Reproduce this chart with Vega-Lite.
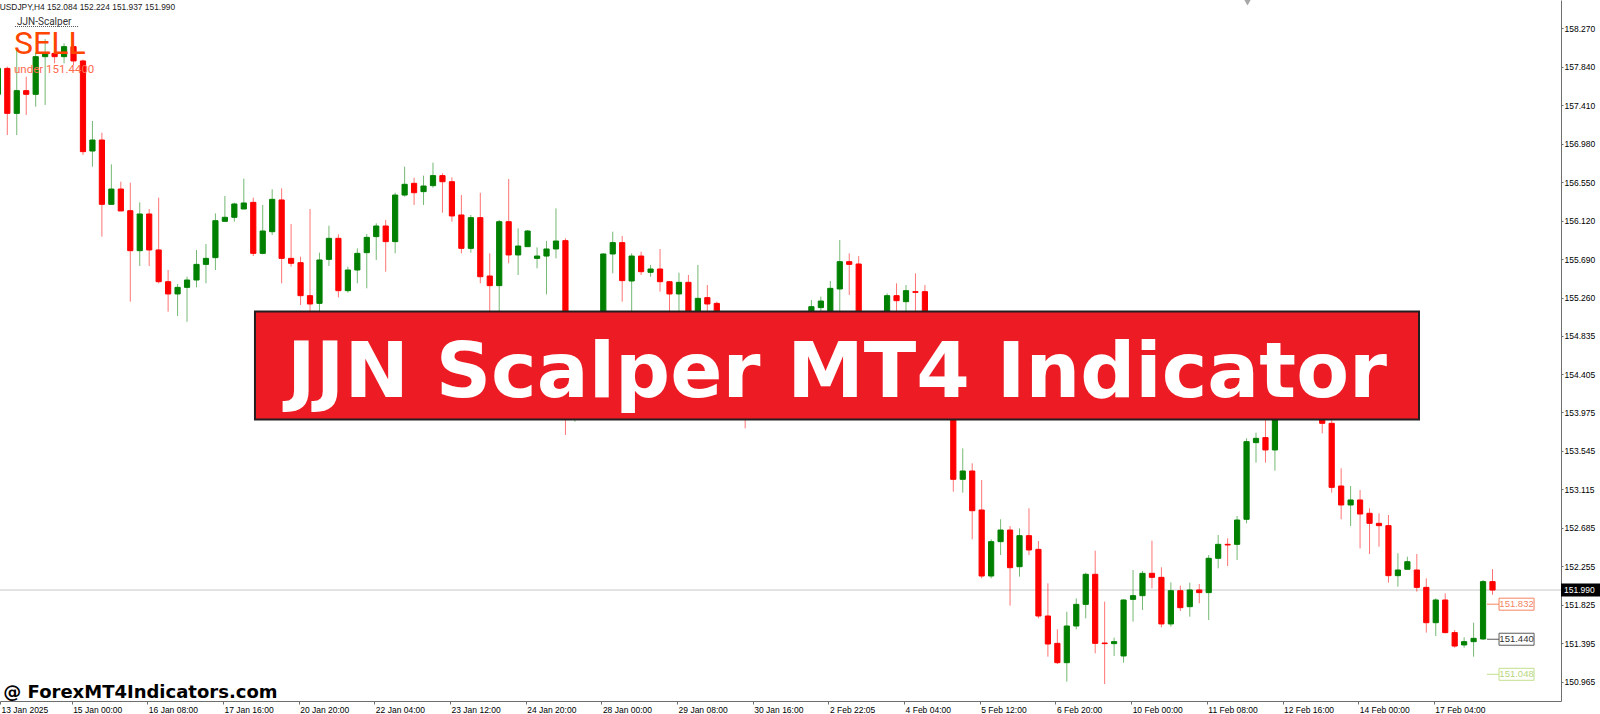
{
  "$schema": "https://vega.github.io/schema/vega-lite/v6.json",
  "width": 1561,
  "height": 701,
  "autosize": "none",
  "padding": {"left": 0, "top": 0, "right": 39, "bottom": 13},
  "background": "#ffffff",
  "config": {"view": {"stroke": null}},
  "datasets": {
    "candles": [
      {"i": -1, "open": 157.532, "high": 157.86, "low": 157.45, "close": 157.822},
      {"i": 0, "open": 157.822, "high": 157.841, "low": 157.077, "close": 157.319},
      {"i": 1, "open": 157.319, "high": 158.046, "low": 157.077, "close": 157.573},
      {"i": 2, "open": 157.573, "high": 157.729, "low": 157.301, "close": 157.532},
      {"i": 3, "open": 157.532, "high": 158.0, "low": 157.394, "close": 157.953},
      {"i": 4, "open": 157.953, "high": 158.15, "low": 157.413, "close": 157.99},
      {"i": 5, "open": 157.99, "high": 158.028, "low": 157.878, "close": 157.953},
      {"i": 6, "open": 157.953, "high": 158.102, "low": 157.878, "close": 158.065},
      {"i": 7, "open": 158.065, "high": 158.102, "low": 157.86, "close": 157.905},
      {"i": 8, "open": 157.905, "high": 157.92, "low": 156.854, "close": 156.891},
      {"i": 9, "open": 156.898, "high": 157.234, "low": 156.723, "close": 157.021},
      {"i": 10, "open": 157.021, "high": 157.103, "low": 155.941, "close": 156.302},
      {"i": 11, "open": 156.302, "high": 156.749, "low": 156.302, "close": 156.473},
      {"i": 12, "open": 156.473, "high": 156.555, "low": 156.228, "close": 156.228},
      {"i": 13, "open": 156.231, "high": 156.544, "low": 155.214, "close": 155.784},
      {"i": 14, "open": 155.784, "high": 156.324, "low": 155.613, "close": 156.194},
      {"i": 15, "open": 156.194, "high": 156.25, "low": 155.613, "close": 155.792},
      {"i": 16, "open": 155.792, "high": 156.377, "low": 155.419, "close": 155.437},
      {"i": 17, "open": 155.437, "high": 155.568, "low": 155.102, "close": 155.3},
      {"i": 18, "open": 155.3, "high": 155.411, "low": 155.054, "close": 155.374},
      {"i": 19, "open": 155.374, "high": 155.493, "low": 154.99, "close": 155.456},
      {"i": 20, "open": 155.456, "high": 155.792, "low": 155.374, "close": 155.631},
      {"i": 21, "open": 155.631, "high": 155.859, "low": 155.419, "close": 155.698},
      {"i": 22, "open": 155.706, "high": 156.201, "low": 155.568, "close": 156.119},
      {"i": 23, "open": 156.112, "high": 156.395, "low": 156.112, "close": 156.157},
      {"i": 24, "open": 156.157, "high": 156.321, "low": 156.108, "close": 156.306},
      {"i": 25, "open": 156.25, "high": 156.589, "low": 156.25, "close": 156.317},
      {"i": 26, "open": 156.324, "high": 156.377, "low": 155.724, "close": 155.754},
      {"i": 27, "open": 155.754, "high": 156.295, "low": 155.743, "close": 156.004},
      {"i": 28, "open": 155.996, "high": 156.47, "low": 155.959, "close": 156.358},
      {"i": 29, "open": 156.351, "high": 156.481, "low": 155.419, "close": 155.698},
      {"i": 30, "open": 155.698, "high": 156.082, "low": 155.605, "close": 155.643},
      {"i": 31, "open": 155.65, "high": 155.717, "low": 155.177, "close": 155.281},
      {"i": 32, "open": 155.281, "high": 156.25, "low": 155.05, "close": 155.188},
      {"i": 33, "open": 155.195, "high": 155.762, "low": 155.08, "close": 155.68},
      {"i": 34, "open": 155.687, "high": 156.063, "low": 155.613, "close": 155.922},
      {"i": 35, "open": 155.922, "high": 155.967, "low": 155.262, "close": 155.337},
      {"i": 36, "open": 155.337, "high": 155.605, "low": 155.315, "close": 155.568},
      {"i": 37, "open": 155.568, "high": 155.81, "low": 155.419, "close": 155.754},
      {"i": 38, "open": 155.762, "high": 155.97, "low": 155.363, "close": 155.933},
      {"i": 39, "open": 155.941, "high": 156.09, "low": 155.68, "close": 156.06},
      {"i": 40, "open": 156.06, "high": 156.127, "low": 155.549, "close": 155.885},
      {"i": 41, "open": 155.885, "high": 156.432, "low": 155.754, "close": 156.406},
      {"i": 42, "open": 156.406, "high": 156.723, "low": 156.388, "close": 156.526},
      {"i": 43, "open": 156.537, "high": 156.6, "low": 156.295, "close": 156.432},
      {"i": 44, "open": 156.444, "high": 156.623, "low": 156.295, "close": 156.507},
      {"i": 45, "open": 156.511, "high": 156.768, "low": 156.488, "close": 156.623},
      {"i": 46, "open": 156.623, "high": 156.649, "low": 156.209, "close": 156.555},
      {"i": 47, "open": 156.555, "high": 156.604, "low": 156.108, "close": 156.172},
      {"i": 48, "open": 156.183, "high": 156.406, "low": 155.754, "close": 155.81},
      {"i": 49, "open": 155.81, "high": 156.183, "low": 155.762, "close": 156.153},
      {"i": 50, "open": 156.153, "high": 156.432, "low": 155.419, "close": 155.493},
      {"i": 51, "open": 155.501, "high": 155.754, "low": 154.95, "close": 155.393},
      {"i": 52, "open": 155.393, "high": 156.127, "low": 155.0, "close": 156.108},
      {"i": 53, "open": 156.108, "high": 156.585, "low": 155.643, "close": 155.736},
      {"i": 54, "open": 155.736, "high": 156.034, "low": 155.512, "close": 155.836},
      {"i": 55, "open": 155.829, "high": 156.015, "low": 155.829, "close": 156.004},
      {"i": 56, "open": 155.698, "high": 155.821, "low": 155.587, "close": 155.724},
      {"i": 57, "open": 155.724, "high": 155.892, "low": 155.296, "close": 155.803},
      {"i": 58, "open": 155.803, "high": 156.257, "low": 155.698, "close": 155.892},
      {"i": 59, "open": 155.896, "high": 155.922, "low": 153.723, "close": 154.4},
      {"i": 60, "open": 154.4, "high": 155.0, "low": 153.872, "close": 154.7},
      {"i": 61, "open": 154.7, "high": 154.95, "low": 154.3, "close": 154.5},
      {"i": 62, "open": 154.5, "high": 155.05, "low": 154.4, "close": 154.95},
      {"i": 63, "open": 154.95, "high": 155.755, "low": 154.85, "close": 155.747},
      {"i": 64, "open": 155.747, "high": 155.996, "low": 155.531, "close": 155.874},
      {"i": 65, "open": 155.874, "high": 155.948, "low": 155.214, "close": 155.449},
      {"i": 66, "open": 155.445, "high": 155.754, "low": 155.0, "close": 155.724},
      {"i": 67, "open": 155.724, "high": 155.773, "low": 155.512, "close": 155.549},
      {"i": 68, "open": 155.542, "high": 155.624, "low": 155.493, "close": 155.579},
      {"i": 69, "open": 155.579, "high": 155.803, "low": 155.326, "close": 155.437},
      {"i": 70, "open": 155.437, "high": 155.44, "low": 155.05, "close": 155.3},
      {"i": 71, "open": 155.3, "high": 155.538, "low": 155.102, "close": 155.43},
      {"i": 72, "open": 155.43, "high": 155.512, "low": 154.95, "close": 155.0},
      {"i": 73, "open": 155.0, "high": 155.624, "low": 154.95, "close": 155.251},
      {"i": 74, "open": 155.259, "high": 155.4, "low": 155.05, "close": 155.188},
      {"i": 75, "open": 155.195, "high": 155.214, "low": 154.9, "close": 154.95},
      {"i": 76, "open": 154.95, "high": 155.05, "low": 154.6, "close": 154.7},
      {"i": 77, "open": 154.7, "high": 154.8, "low": 154.2, "close": 154.3},
      {"i": 78, "open": 154.3, "high": 154.5, "low": 153.798, "close": 154.1},
      {"i": 79, "open": 154.1, "high": 154.5, "low": 154.0, "close": 154.4},
      {"i": 80, "open": 154.4, "high": 154.7, "low": 154.3, "close": 154.6},
      {"i": 81, "open": 154.6, "high": 154.8, "low": 154.4, "close": 154.5},
      {"i": 82, "open": 154.5, "high": 154.9, "low": 154.45, "close": 154.8},
      {"i": 83, "open": 154.8, "high": 155.0, "low": 154.7, "close": 154.95},
      {"i": 84, "open": 154.95, "high": 155.08, "low": 154.85, "close": 155.0},
      {"i": 85, "open": 155.0, "high": 155.233, "low": 154.9, "close": 155.158},
      {"i": 86, "open": 155.147, "high": 155.27, "low": 155.05, "close": 155.221},
      {"i": 87, "open": 155.08, "high": 155.445, "low": 155.0, "close": 155.363},
      {"i": 88, "open": 155.356, "high": 155.903, "low": 155.05, "close": 155.661},
      {"i": 89, "open": 155.661, "high": 155.754, "low": 155.289, "close": 155.631},
      {"i": 90, "open": 155.635, "high": 155.724, "low": 154.9, "close": 155.0},
      {"i": 91, "open": 155.0, "high": 155.08, "low": 154.6, "close": 154.8},
      {"i": 92, "open": 154.8, "high": 155.05, "low": 154.7, "close": 154.95},
      {"i": 93, "open": 154.95, "high": 155.307, "low": 154.9, "close": 155.281},
      {"i": 94, "open": 155.281, "high": 155.419, "low": 155.05, "close": 155.225},
      {"i": 95, "open": 155.214, "high": 155.4, "low": 155.05, "close": 155.337},
      {"i": 96, "open": 155.326, "high": 155.531, "low": 155.05, "close": 155.318},
      {"i": 97, "open": 155.326, "high": 155.4, "low": 154.85, "close": 154.9},
      {"i": 98, "open": 154.9, "high": 155.0, "low": 154.4, "close": 154.55},
      {"i": 99, "open": 154.55, "high": 154.7, "low": 154.2, "close": 154.3},
      {"i": 100, "open": 154.3, "high": 154.4, "low": 153.09, "close": 153.228},
      {"i": 101, "open": 153.228, "high": 153.574, "low": 153.079, "close": 153.321},
      {"i": 102, "open": 153.321, "high": 153.407, "low": 152.557, "close": 152.877},
      {"i": 103, "open": 152.885, "high": 153.22, "low": 152.121, "close": 152.147},
      {"i": 104, "open": 152.147, "high": 152.557, "low": 152.121, "close": 152.531},
      {"i": 105, "open": 152.531, "high": 152.781, "low": 152.382, "close": 152.661},
      {"i": 106, "open": 152.661, "high": 152.706, "low": 151.816, "close": 152.24},
      {"i": 107, "open": 152.251, "high": 152.68, "low": 152.14, "close": 152.598},
      {"i": 108, "open": 152.598, "high": 152.904, "low": 152.382, "close": 152.438},
      {"i": 109, "open": 152.445, "high": 152.538, "low": 151.674, "close": 151.7},
      {"i": 110, "open": 151.7, "high": 152.065, "low": 151.245, "close": 151.387},
      {"i": 111, "open": 151.394, "high": 151.551, "low": 151.163, "close": 151.178},
      {"i": 112, "open": 151.178, "high": 151.748, "low": 150.966, "close": 151.588},
      {"i": 113, "open": 151.588, "high": 151.897, "low": 151.551, "close": 151.83},
      {"i": 114, "open": 151.83, "high": 152.184, "low": 151.674, "close": 152.166},
      {"i": 115, "open": 152.166, "high": 152.43, "low": 151.283, "close": 151.394},
      {"i": 116, "open": 151.398, "high": 151.86, "low": 150.94, "close": 151.391},
      {"i": 117, "open": 151.391, "high": 151.458, "low": 151.253, "close": 151.413},
      {"i": 118, "open": 151.253, "high": 151.886, "low": 151.178, "close": 151.879},
      {"i": 119, "open": 151.886, "high": 152.214, "low": 151.637, "close": 151.927},
      {"i": 120, "open": 151.927, "high": 152.203, "low": 151.767, "close": 152.177},
      {"i": 121, "open": 152.177, "high": 152.542, "low": 152.009, "close": 152.132},
      {"i": 122, "open": 152.132, "high": 152.244, "low": 151.573, "close": 151.611},
      {"i": 123, "open": 151.611, "high": 152.076, "low": 151.581, "close": 151.983},
      {"i": 124, "open": 151.983, "high": 152.039, "low": 151.756, "close": 151.793},
      {"i": 125, "open": 151.804, "high": 152.073, "low": 151.692, "close": 151.991},
      {"i": 126, "open": 151.991, "high": 152.058, "low": 151.842, "close": 151.961},
      {"i": 127, "open": 151.961, "high": 152.382, "low": 151.655, "close": 152.345},
      {"i": 128, "open": 152.345, "high": 152.605, "low": 152.233, "close": 152.501},
      {"i": 129, "open": 152.501, "high": 152.568, "low": 152.259, "close": 152.494},
      {"i": 130, "open": 152.501, "high": 152.818, "low": 152.326, "close": 152.773},
      {"i": 131, "open": 152.781, "high": 153.686, "low": 152.736, "close": 153.649},
      {"i": 132, "open": 153.638, "high": 153.75, "low": 153.414, "close": 153.686},
      {"i": 133, "open": 153.694, "high": 153.95, "low": 153.414, "close": 153.556},
      {"i": 134, "open": 153.556, "high": 154.3, "low": 153.325, "close": 154.2},
      {"i": 135, "open": 154.2, "high": 154.7, "low": 154.1, "close": 154.5},
      {"i": 136, "open": 154.5, "high": 154.6, "low": 154.2, "close": 154.35},
      {"i": 137, "open": 154.35, "high": 154.75, "low": 154.25, "close": 154.6},
      {"i": 138, "open": 154.6, "high": 154.65, "low": 154.0, "close": 154.1},
      {"i": 139, "open": 154.1, "high": 154.3, "low": 153.742, "close": 153.854},
      {"i": 140, "open": 153.854, "high": 153.9, "low": 153.079, "close": 153.138},
      {"i": 141, "open": 153.153, "high": 153.351, "low": 152.781, "close": 152.941},
      {"i": 142, "open": 152.941, "high": 153.153, "low": 152.706, "close": 152.997},
      {"i": 143, "open": 152.997, "high": 153.108, "low": 152.456, "close": 152.84},
      {"i": 144, "open": 152.848, "high": 152.904, "low": 152.393, "close": 152.736},
      {"i": 145, "open": 152.736, "high": 152.848, "low": 152.475, "close": 152.71},
      {"i": 146, "open": 152.71, "high": 152.829, "low": 152.073, "close": 152.151},
      {"i": 147, "open": 152.151, "high": 152.401, "low": 152.028, "close": 152.214},
      {"i": 148, "open": 152.222, "high": 152.363, "low": 152.222, "close": 152.307},
      {"i": 149, "open": 152.214, "high": 152.393, "low": 151.972, "close": 152.02},
      {"i": 150, "open": 152.02, "high": 152.121, "low": 151.514, "close": 151.625},
      {"i": 151, "open": 151.625, "high": 151.897, "low": 151.476, "close": 151.879},
      {"i": 152, "open": 151.879, "high": 151.953, "low": 151.506, "close": 151.514},
      {"i": 153, "open": 151.514, "high": 151.543, "low": 151.346, "close": 151.364},
      {"i": 154, "open": 151.376, "high": 151.461, "low": 151.346, "close": 151.413},
      {"i": 155, "open": 151.413, "high": 151.625, "low": 151.245, "close": 151.45},
      {"i": 156, "open": 151.443, "high": 152.102, "low": 151.432, "close": 152.084},
      {"i": 157, "open": 152.084, "high": 152.224, "low": 151.937, "close": 151.99}
    ],
    "levels": [
      {"price": 151.832, "kind": "sell", "label": "151.832"},
      {"price": 151.44, "kind": "entry", "label": "151.440"},
      {"price": 151.048, "kind": "tp", "label": "151.048"}
    ]
  },
  "layer": [
    {
      "data": {"values": [{"price": 151.99}]},
      "mark": {"type": "rule", "color": "#c8c8c8", "strokeWidth": 1},
      "encoding": {
        "y": {
          "field": "price", "type": "quantitative",
          "scale": {"domain": [150.7496, 158.5864], "nice": false, "zero": false, "padding": 0},
          "axis": {
            "orient": "right", "title": null, "grid": false,
            "values": [158.27, 157.84, 157.41, 156.98, 156.55, 156.12, 155.69, 155.26, 154.835, 154.405, 153.975, 153.545, 153.115, 152.685, 152.255, 151.825, 151.395, 150.965],
            "format": ".3f", "domain": true, "ticks": true, "labels": true,
            "domainColor": "#6e6e6e", "tickColor": "#6e6e6e", "tickSize": 2,
            "labelPadding": 1, "labelFont": "Liberation Sans", "labelFontSize": 8.5, "labelColor": "#000000",
            "labelOverlap": false, "labelBound": false, "labelFlush": false, "labelBaseline": "middle", "labelAlign": "left"
          }
        }
      }
    },
    {
      "data": {"name": "candles"},
      "mark": {"type": "rule", "strokeWidth": 1, "opacity": 0.55, "clip": true},
      "encoding": {
        "x": {
          "field": "i", "type": "quantitative",
          "scale": {"domain": [-0.772, 164.24], "nice": false, "zero": false, "padding": 0},
          "axis": {
            "orient": "bottom", "title": null, "grid": false,
            "values": [-0.77, 6.8, 14.8, 22.8, 30.8, 38.8, 46.8, 54.8, 62.8, 70.8, 78.8, 86.8, 94.8, 102.8, 110.8, 118.8, 126.8, 134.8, 142.8, 150.8],
            "labelExpr": "['13 Jan 2025','15 Jan 00:00','16 Jan 08:00','17 Jan 16:00','20 Jan 20:00','22 Jan 04:00','23 Jan 12:00','24 Jan 20:00','28 Jan 00:00','29 Jan 08:00','30 Jan 16:00','2 Feb 22:05','4 Feb 04:00','5 Feb 12:00','6 Feb 20:00','10 Feb 00:00','11 Feb 08:00','12 Feb 16:00','14 Feb 00:00','17 Feb 04:00'][round((datum.value + 1.2) / 8)]",
            "domain": true, "ticks": true, "labels": true,
            "domainColor": "#6e6e6e", "tickColor": "#6e6e6e", "tickSize": 3,
            "labelAlign": "left", "labelBaseline": "top", "labelPadding": 1, "labelOffset": 1,
            "labelFont": "Liberation Sans", "labelFontSize": 8.5, "labelColor": "#000000",
            "labelOverlap": false, "labelBound": false, "labelFlush": false
          }
        },
        "y": {"field": "low", "type": "quantitative", "scale": {"domain": [150.7496, 158.5864], "nice": false, "zero": false, "padding": 0}},
        "y2": {"field": "high"},
        "color": {"condition": {"test": "datum.close >= datum.open", "value": "#008000"}, "value": "#ff0000"}
      }
    },
    {
      "data": {"name": "candles"},
      "mark": {"type": "bar", "width": 5.2, "strokeWidth": 1, "clip": true},
      "encoding": {
        "x": {"field": "i", "type": "quantitative", "scale": {"domain": [-0.772, 164.24], "nice": false, "zero": false, "padding": 0}},
        "y": {"field": "open", "type": "quantitative", "scale": {"domain": [150.7496, 158.5864], "nice": false, "zero": false, "padding": 0}},
        "y2": {"field": "close"},
        "fill": {"condition": {"test": "datum.close >= datum.open", "value": "#008000"}, "value": "#ff0000"},
        "stroke": {"condition": {"test": "datum.close >= datum.open", "value": "#008000"}, "value": "#ff0000"}
      }
    },
    {
      "data": {"name": "levels"},
      "mark": {"type": "rule", "strokeWidth": 1},
      "encoding": {
        "x": {"datum": 156.41, "type": "quantitative", "scale": {"domain": [-0.772, 164.24], "nice": false, "zero": false, "padding": 0}},
        "x2": {"datum": 157.69},
        "y": {"field": "price", "type": "quantitative", "scale": {"domain": [150.7496, 158.5864], "nice": false, "zero": false, "padding": 0}},
        "stroke": {"field": "kind", "type": "nominal", "scale": {"domain": ["sell", "entry", "tp"], "range": ["#f4845f", "#5a5a5a", "#c2df8c"]}, "legend": null}
      }
    },
    {
      "data": {"name": "levels"},
      "mark": {"type": "bar", "height": 12, "fill": "#ffffff", "strokeWidth": 1},
      "encoding": {
        "x": {"datum": 157.69, "type": "quantitative", "scale": {"domain": [-0.772, 164.24], "nice": false, "zero": false, "padding": 0}},
        "x2": {"datum": 161.39},
        "y": {"field": "price", "type": "quantitative", "scale": {"domain": [150.7496, 158.5864], "nice": false, "zero": false, "padding": 0}},
        "stroke": {"field": "kind", "type": "nominal", "scale": {"domain": ["sell", "entry", "tp"], "range": ["#f4845f", "#5a5a5a", "#c2df8c"]}, "legend": null}
      }
    },
    {
      "data": {"name": "levels"},
      "mark": {"type": "text", "font": "Liberation Sans", "fontSize": 9.5, "align": "center", "baseline": "middle"},
      "encoding": {
        "x": {"datum": 159.54, "type": "quantitative", "scale": {"domain": [-0.772, 164.24], "nice": false, "zero": false, "padding": 0}},
        "y": {"field": "price", "type": "quantitative", "scale": {"domain": [150.7496, 158.5864], "nice": false, "zero": false, "padding": 0}},
        "text": {"field": "label"},
        "fill": {"field": "kind", "type": "nominal", "scale": {"domain": ["sell", "entry", "tp"], "range": ["#f4845f", "#333333", "#b7d77c"]}, "legend": null}
      }
    },
    {
      "data": {"values": [{"price": 151.99, "label": "151.990"}]},
      "mark": {"type": "bar", "height": 13, "fill": "#000000"},
      "encoding": {
        "x": {"datum": 164.24, "type": "quantitative", "scale": {"domain": [-0.772, 164.24], "nice": false, "zero": false, "padding": 0}},
        "x2": {"datum": 168.6},
        "y": {"field": "price", "type": "quantitative", "scale": {"domain": [150.7496, 158.5864], "nice": false, "zero": false, "padding": 0}}
      }
    },
    {
      "data": {"values": [{"price": 151.99, "label": "151.990"}]},
      "mark": {"type": "text", "font": "Liberation Sans", "fontSize": 8.5, "align": "left", "baseline": "middle", "fill": "#ffffff"},
      "encoding": {
        "x": {"datum": 164.56, "type": "quantitative", "scale": {"domain": [-0.772, 164.24], "nice": false, "zero": false, "padding": 0}},
        "y": {"field": "price", "type": "quantitative", "scale": {"domain": [150.7496, 158.5864], "nice": false, "zero": false, "padding": 0}},
        "text": {"field": "label"}
      }
    },
    {
      "data": {"values": [{"name": "banner"}]},
      "mark": {"type": "rect", "fill": "#ed1c24", "stroke": "#231f20", "strokeWidth": 2},
      "encoding": {
        "x": {"datum": 26.18, "type": "quantitative", "scale": {"domain": [-0.772, 164.24], "nice": false, "zero": false, "padding": 0}},
        "x2": {"datum": 149.23},
        "y": {"datum": 155.104, "type": "quantitative", "scale": {"domain": [150.7496, 158.5864], "nice": false, "zero": false, "padding": 0}},
        "y2": {"datum": 153.897}
      }
    },
    {
      "data": {"values": [{"text": "JJN Scalper MT4 Indicator"}]},
      "mark": {"type": "text", "font": "DejaVu Sans", "fontWeight": "bold", "fontSize": 77, "align": "center", "baseline": "alphabetic", "fill": "#ffffff"},
      "encoding": {
        "x": {"datum": 87.71, "type": "quantitative", "scale": {"domain": [-0.772, 164.24], "nice": false, "zero": false, "padding": 0}},
        "y": {"datum": 154.152, "type": "quantitative", "scale": {"domain": [150.7496, 158.5864], "nice": false, "zero": false, "padding": 0}},
        "text": {"field": "text"}
      }
    },
    {
      "data": {"values": [{"text": "USDJPY,H4  152.084 152.224 151.937 151.990"}]},
      "mark": {"type": "text", "font": "Liberation Sans", "fontSize": 8.4, "align": "left", "baseline": "alphabetic", "fill": "#222222"},
      "encoding": {
        "x": {"datum": -0.8, "type": "quantitative", "scale": {"domain": [-0.772, 164.24], "nice": false, "zero": false, "padding": 0}},
        "y": {"datum": 158.475, "type": "quantitative", "scale": {"domain": [150.7496, 158.5864], "nice": false, "zero": false, "padding": 0}},
        "text": {"field": "text"}
      }
    },
    {
      "data": {"values": [{"text": "JJN-Scalper"}]},
      "mark": {"type": "text", "font": "Roboto", "fontSize": 10, "align": "left", "baseline": "alphabetic", "fill": "#333333"},
      "encoding": {
        "x": {"datum": 1.03, "type": "quantitative", "scale": {"domain": [-0.772, 164.24], "nice": false, "zero": false, "padding": 0}},
        "y": {"datum": 158.31, "type": "quantitative", "scale": {"domain": [150.7496, 158.5864], "nice": false, "zero": false, "padding": 0}},
        "text": {"field": "text"}
      }
    },
    {
      "data": {"values": [{"name": "underline"}]},
      "mark": {"type": "rule", "stroke": "#555555", "strokeWidth": 1, "strokeDash": [1, 1]},
      "encoding": {
        "x": {"datum": 0.81, "type": "quantitative", "scale": {"domain": [-0.772, 164.24], "nice": false, "zero": false, "padding": 0}},
        "x2": {"datum": 7.58},
        "y": {"datum": 158.29, "type": "quantitative", "scale": {"domain": [150.7496, 158.5864], "nice": false, "zero": false, "padding": 0}}
      }
    },
    {
      "data": {"values": [{"text": "SELL"}]},
      "mark": {"type": "text", "font": "Roboto", "fontSize": 32, "align": "left", "baseline": "alphabetic", "fill": "#ff4500"},
      "encoding": {
        "x": {"datum": 0.71, "type": "quantitative", "scale": {"domain": [-0.772, 164.24], "nice": false, "zero": false, "padding": 0}},
        "y": {"datum": 157.983, "type": "quantitative", "scale": {"domain": [150.7496, 158.5864], "nice": false, "zero": false, "padding": 0}},
        "text": {"field": "text"}
      }
    },
    {
      "data": {"values": [{"text": "under 151.4400"}]},
      "mark": {"type": "text", "font": "Roboto", "fontSize": 11.5, "align": "left", "baseline": "alphabetic", "fill": "#ff6a4d"},
      "encoding": {
        "x": {"datum": 0.71, "type": "quantitative", "scale": {"domain": [-0.772, 164.24], "nice": false, "zero": false, "padding": 0}},
        "y": {"datum": 157.77, "type": "quantitative", "scale": {"domain": [150.7496, 158.5864], "nice": false, "zero": false, "padding": 0}},
        "text": {"field": "text"}
      }
    },
    {
      "data": {"values": [{"text": "@ ForexMT4Indicators.com"}]},
      "mark": {"type": "text", "font": "DejaVu Sans", "fontWeight": "bold", "fontSize": 18, "align": "left", "baseline": "alphabetic", "fill": "#000000"},
      "encoding": {
        "x": {"datum": -0.42, "type": "quantitative", "scale": {"domain": [-0.772, 164.24], "nice": false, "zero": false, "padding": 0}},
        "y": {"datum": 150.78, "type": "quantitative", "scale": {"domain": [150.7496, 158.5864], "nice": false, "zero": false, "padding": 0}},
        "text": {"field": "text"}
      }
    },
    {
      "data": {"values": [{"name": "shift"}]},
      "mark": {"type": "point", "shape": "triangle-down", "size": 45, "filled": true, "fill": "#a8a8a8", "opacity": 1},
      "encoding": {
        "x": {"datum": 131.1, "type": "quantitative", "scale": {"domain": [-0.772, 164.24], "nice": false, "zero": false, "padding": 0}},
        "y": {"datum": 158.558, "type": "quantitative", "scale": {"domain": [150.7496, 158.5864], "nice": false, "zero": false, "padding": 0}}
      }
    }
  ]
}
